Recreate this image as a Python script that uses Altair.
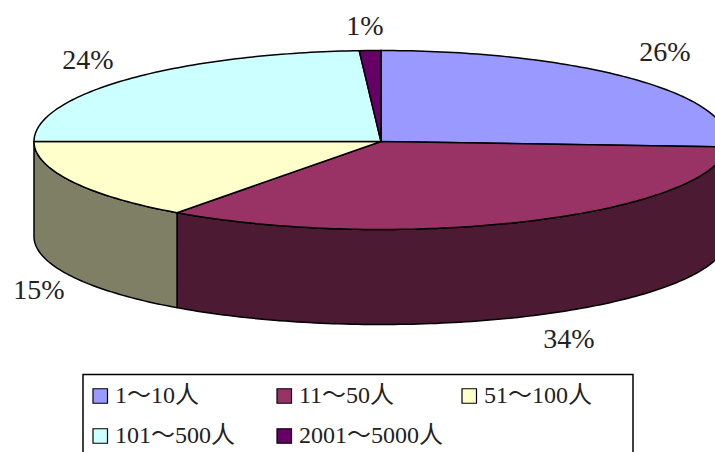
import math
import altair as alt
import pandas as pd

# Share of companies by head-count band
categories = ["1～10人", "11～50人", "51～100人", "101～500人", "2001～5000人"]
shares = [26, 34, 15, 24, 1]
top_colors = ["#9999FF", "#993366", "#FFFFCC", "#CCFFFF", "#660066"]
side_colors = ["#4D4D80", "#4D1A33", "#7F7F66", "#668080", "#330033"]

# Canvas and pie geometry, in pixels
W, H = 715, 452
CX, CY = 381, 141.5
RX, RY_BACK, RY_FRONT = 347, 91, 88
DEPTH = 95

# Percentage label centres, in slice order
label_x = [665, 569, 39, 88, 365]
label_y = [53, 340, 291, 61, 27]

# Legend layout: (swatch left, text left, text centre y) for each entry
legend_slots = [(93, 115, 396), (277, 299, 396), (462, 484, 396), (93, 115, 436), (277, 299, 436)]
SWATCH = 14.5

SERIF = "Liberation Serif, Noto Sans CJK SC"


def rim(deg):
    """Point on the top ellipse, degrees clockwise from twelve o'clock."""
    t = math.radians(deg)
    dy = -math.cos(t)
    return CX + RX * math.sin(t), CY + dy * (RY_FRONT if dy > 0 else RY_BACK)


def arc_steps(a, b):
    n = max(2, int(abs(b - a)) + 1)
    return [a + (b - a) * i / (n - 1) for i in range(n)]


tops, walls = [], []
start = 0.0
for i, share in enumerate(shares):
    end = start + share * 3.6
    pts = [(CX, CY)] + [rim(d) for d in arc_steps(start, end)] + [(CX, CY)]
    tops += [{"slice": i, "k": k, "x": x, "y": y, "color": top_colors[i]} for k, (x, y) in enumerate(pts)]
    # Only the part of the rim facing the viewer gets a wall
    lo, hi = max(start, 90), min(end, 270)
    if lo < hi:
        edge = [rim(d) for d in arc_steps(lo, hi)]
        ring = edge + [(x, y + DEPTH) for x, y in reversed(edge)] + edge[:1]
        walls += [{"slice": i, "k": k, "x": x, "y": y, "color": side_colors[i]} for k, (x, y) in enumerate(ring)]
    start = end

x_enc = alt.X("x:Q", scale=alt.Scale(domain=[0, W]), axis=None)
y_enc = alt.Y("y:Q", scale=alt.Scale(domain=[H, 0]), axis=None)

wall_layer = alt.Chart(pd.DataFrame(walls)).mark_line(
    stroke="#000000", strokeWidth=1.5, clip=True, interpolate="linear"
).encode(
    x=x_enc, y=y_enc, order="k:Q", detail="slice:N",
    fill=alt.Fill("color:N", scale=None),
)

top_layer = alt.Chart(pd.DataFrame(tops)).mark_line(
    stroke="#000000", strokeWidth=1.5, clip=True, interpolate="linear"
).encode(
    x=x_enc, y=y_enc, order="k:Q", detail="slice:N",
    fill=alt.Fill("color:N", scale=None),
)

labels = pd.DataFrame({
    "x": label_x, "y": label_y, "t": [f"{s}%" for s in shares],
})
label_layer = alt.Chart(labels).mark_text(
    font=SERIF, fontSize=28, color="#222222", align="center", baseline="middle"
).encode(x=x_enc, y=y_enc, text="t:N")

box = pd.DataFrame({"x": [83], "x2": [633], "y": [374.5], "y2": [470]})
box_layer = alt.Chart(box).mark_rect(
    fill="#FFFFFF", stroke="#000000", strokeWidth=1.5, clip=True
).encode(x=x_enc, x2="x2:Q", y=y_enc, y2="y2:Q")

legend_rows = pd.DataFrame({
    "name": categories,
    "color": top_colors,
    "x": [s[0] for s in legend_slots],
    "x2": [s[0] + SWATCH for s in legend_slots],
    "y": [s[2] - SWATCH / 2 for s in legend_slots],
    "y2": [s[2] + SWATCH / 2 for s in legend_slots],
    "tx": [s[1] for s in legend_slots],
    "ty": [s[2] for s in legend_slots],
})
swatch_layer = alt.Chart(legend_rows).mark_rect(stroke="#000000", strokeWidth=1.2).encode(
    x=x_enc, x2="x2:Q", y=y_enc, y2="y2:Q",
    fill=alt.Fill("color:N", scale=None),
)
legend_text = alt.Chart(legend_rows).mark_text(
    font=SERIF, fontSize=24, color="#222222", align="left", baseline="middle"
).encode(
    x=alt.X("tx:Q", scale=alt.Scale(domain=[0, W]), axis=None),
    y=alt.Y("ty:Q", scale=alt.Scale(domain=[H, 0]), axis=None),
    text="name:N",
)

chart = alt.layer(
    wall_layer, top_layer, label_layer, box_layer, swatch_layer, legend_text
).properties(
    width=W, height=H, padding=0, background="#FFFFFF",
    autosize=alt.AutoSizeParams(type="fit", contains="padding"),
).configure_view(stroke=None)

chart.save("out.html", embed_options={"renderer": "svg", "actions": False})
